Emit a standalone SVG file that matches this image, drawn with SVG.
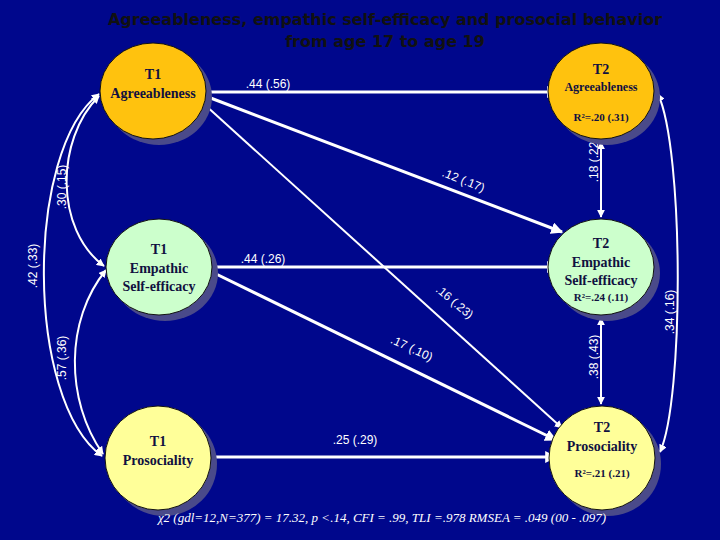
<svg xmlns="http://www.w3.org/2000/svg" width="720" height="540" viewBox="0 0 720 540">
<style>
.n{stroke:#111;stroke-width:1}
.sh{fill:#4a4a8a}
.t{font-family:"Liberation Serif",serif;font-weight:bold;fill:#101040;text-anchor:middle}
.l{font-family:"Liberation Sans",sans-serif;font-size:12px;fill:#fff;text-anchor:middle}
.c{fill:none;stroke:#fff;stroke-width:3}
.c2{fill:none;stroke:#fff;stroke-width:2}
</style>
<defs>
<marker id="a" viewBox="0 0 10 10" refX="9" refY="5" markerWidth="4" markerHeight="4" orient="auto-start-reverse"><path d="M0,0L10,5L0,10z" fill="#fff"/></marker>
</defs>
<rect width="720" height="540" fill="#00078c"/>
<text x="385" y="25" font-family="DejaVu Sans,sans-serif" font-weight="bold" font-size="16" fill="#111" text-anchor="middle">Agreeableness, empathic self-efficacy and prosocial behavior</text>
<text x="385" y="47" font-family="DejaVu Sans,sans-serif" font-weight="bold" font-size="16" fill="#111" text-anchor="middle">from age 17 to age 19</text>
<g id="connectors">
<path class="c" d="M207,92H558" marker-end="url(#a)"/>
<path class="c" d="M208,97L562,232" marker-end="url(#a)"/>
<path class="c2" d="M204,104L562,428" marker-end="url(#a)"/>
<path class="c" d="M212,267H558" marker-end="url(#a)"/>
<path class="c" d="M212,272L556,440" marker-end="url(#a)"/>
<path class="c" d="M212,457H556" marker-end="url(#a)"/>
<path class="c2" d="M601,142V217" marker-start="url(#a)" marker-end="url(#a)"/>
<path class="c2" d="M601,318V404" marker-start="url(#a)" marker-end="url(#a)"/>
<path class="c2" d="M658,94C684,150 684,400 660,452" marker-start="url(#a)" marker-end="url(#a)"/>
<path class="c2" d="M99,94C25,150 25,400 102,456" marker-start="url(#a)" marker-end="url(#a)"/>
<path class="c2" d="M99,96C55,140 55,230 104,266" marker-start="url(#a)" marker-end="url(#a)"/>
<path class="c2" d="M106,270C65,320 65,400 103,454" marker-start="url(#a)" marker-end="url(#a)"/>
</g>
<g id="labels">
<text class="l" x="268" y="88">.44 (.56)</text>
<text class="l" x="263" y="263">.44 (.26)</text>
<text class="l" x="355" y="444">.25 (.29)</text>
<text class="l" transform="translate(462,184) rotate(22)">.12 (.17)</text>
<text class="l" transform="translate(452,305) rotate(40)">.16 (.23)</text>
<text class="l" transform="translate(410,352) rotate(25)">.17 (.10)</text>
<text class="l" transform="translate(598,160) rotate(-90)">.18 (.22)</text>
<text class="l" transform="translate(598,357) rotate(-90)">.38 (.43)</text>
<text class="l" transform="translate(674,312) rotate(-90)">.34 (.16)</text>
<text class="l" transform="translate(66,187) rotate(-90)">.30 (.15)</text>
<text class="l" transform="translate(37,266) rotate(-90)">.42 (.33)</text>
<text class="l" transform="translate(66,358) rotate(-90)">.57 (.36)</text>
</g>
<g id="t1a"><ellipse class="sh" cx="159" cy="97" rx="53" ry="48"/><ellipse class="n" cx="153" cy="91" rx="53" ry="48" fill="#ffc20e"/><text class="t" x="153" y="79" font-size="14">T1</text><text class="t" x="153" y="98" font-size="14">Agreeableness</text></g>
<g id="t2a"><ellipse class="sh" cx="607" cy="97" rx="53" ry="48"/><ellipse class="n" cx="601" cy="91" rx="53" ry="48" fill="#ffc20e"/><text class="t" x="601" y="74" font-size="14">T2</text><text class="t" x="601" y="91" font-size="12">Agreeableness</text><text class="t" x="601" y="121" font-size="11">R²=.20 (.31)</text></g>
<g id="t1e"><ellipse class="sh" cx="165" cy="273" rx="53" ry="48"/><ellipse class="n" cx="159" cy="267" rx="53" ry="48" fill="#ccffcc"/><text class="t" x="159" y="254" font-size="14">T1</text><text class="t" x="159" y="273" font-size="14">Empathic</text><text class="t" x="159" y="291" font-size="14">Self-efficacy</text></g>
<g id="t2e"><ellipse class="sh" cx="607" cy="273" rx="53" ry="48"/><ellipse class="n" cx="601" cy="267" rx="53" ry="48" fill="#ccffcc"/><text class="t" x="601" y="248" font-size="14">T2</text><text class="t" x="601" y="267" font-size="14">Empathic</text><text class="t" x="601" y="285" font-size="14">Self-efficacy</text><text class="t" x="601" y="301" font-size="11">R²=.24 (.11)</text></g>
<g id="t1p"><ellipse class="sh" cx="164" cy="464" rx="53" ry="52"/><ellipse class="n" cx="158" cy="458" rx="53" ry="52" fill="#ffff99"/><text class="t" x="158" y="446" font-size="14">T1</text><text class="t" x="158" y="465" font-size="14">Prosociality</text></g>
<g id="t2p"><ellipse class="sh" cx="608" cy="464" rx="53" ry="52"/><ellipse class="n" cx="602" cy="458" rx="53" ry="52" fill="#ffff99"/><text class="t" x="602" y="432" font-size="14">T2</text><text class="t" x="602" y="451" font-size="14">Prosociality</text><text class="t" x="602" y="477" font-size="11">R²=.21 (.21)</text></g>
<text x="382" y="522" font-family="Liberation Serif,serif" font-style="italic" font-size="13" fill="#fff" text-anchor="middle">χ2 (gdl=12,N=377) = 17.32, p &lt;.14, CFI = .99, TLI =.978 RMSEA = .049 (00 - .097)</text>
</svg>
